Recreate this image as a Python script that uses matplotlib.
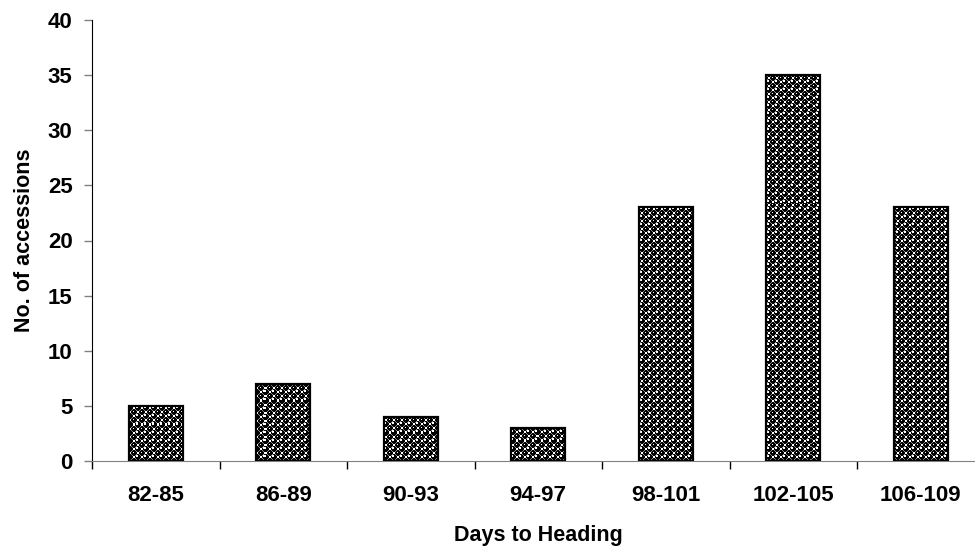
import numpy as np
import matplotlib
matplotlib.use("Agg")
import matplotlib.pyplot as plt

# data
ranges = ['82-85', '86-89', '90-93', '94-97', '98-101', '102-105', '106-109']
accessions = [5, 7, 4, 3, 23, 35, 23]

plt.rcParams['font.family'] = ['Liberation Sans', 'DejaVu Sans']
plt.rcParams['font.weight'] = 'bold'

W, H, DPI = 975, 553, 100
ax_px = (92, 92, 892.5, 441)   # left, bottom, width, height in pixels

fig = plt.figure(figsize=(W/DPI, H/DPI), dpi=DPI)
# right edge of the plot runs off the figure, as in the original
ax = fig.add_axes([ax_px[0]/W, ax_px[1]/H, ax_px[2]/W, ax_px[3]/H])

# "shaded spheres" fill, built as a small pixel tile (Excel-like pattern)
def sphere_tile(n=8, r=2.6, ring=3.1):
    t = np.ones((n, n))
    centres = [(2, 2), (6, 6)]
    for i in range(n):
        for j in range(n):
            py, px = i + 0.5, j + 0.5
            for cy, cx in centres:
                for dy in (-n, 0, n):
                    for dx in (-n, 0, n):
                        d = np.hypot(py - cy - dy, px - cx - dx)
                        if d < r:
                            t[i, j] = 0.0
                        elif d < ring and t[i, j] > 0.5:
                            t[i, j] = 0.55
            # small highlight on each ball
            for cy, cx in centres:
                if abs(py - (cy - 0.9)) < 0.6 and abs(px - (cx - 0.9)) < 0.6:
                    t[i, j] = 1.0
    return t

tile = sphere_tile()
ny, nx = int(ax_px[3]) + 1, int(ax_px[2]) + 1
pattern = np.tile(tile, (ny // 8 + 1, nx // 8 + 1))[:ny, :nx]

x = np.arange(len(ranges))
xlim = (-0.5, len(ranges) - 0.5)
ylim = (0, 40)

bars = ax.bar(x, accessions, width=0.42, facecolor='none', edgecolor='black',
              linewidth=1.6, zorder=3)
for b in bars:
    im = ax.imshow(pattern, cmap='gray', vmin=0, vmax=1, aspect='auto',
                   interpolation='nearest', extent=(xlim[0], xlim[1], ylim[0], ylim[1]),
                   origin='upper', zorder=2)
    im.set_clip_path(b)

ax.set_xlim(*xlim)
ax.set_ylim(*ylim)
ax.set_yticks(range(0, 41, 5))

# ticks between categories, labels under categories
ax.set_xticks(np.arange(-0.5, len(ranges), 1.0))
ax.set_xticklabels([])
ax.set_xticks(x, minor=True)
ax.set_xticklabels(ranges, minor=True, fontsize=16, fontweight='bold')
ax.tick_params(axis='x', which='major', direction='out', length=6, width=1, color='black')
ax.tick_params(axis='x', which='minor', length=0, pad=17)
ax.tick_params(axis='y', direction='out', length=6, width=1, color='#808080',
               labelsize=16, pad=8)

for s in ['top', 'right']:
    ax.spines[s].set_visible(False)
ax.spines['left'].set_color('black')
ax.spines['bottom'].set_color('#808080')

ax.set_xlabel('Days to Heading', fontsize=15.5, fontweight='bold', labelpad=14)
ax.set_ylabel('No. of accessions', fontsize=15.5, fontweight='bold', labelpad=9)

fig.savefig('out.png', dpi=DPI)
